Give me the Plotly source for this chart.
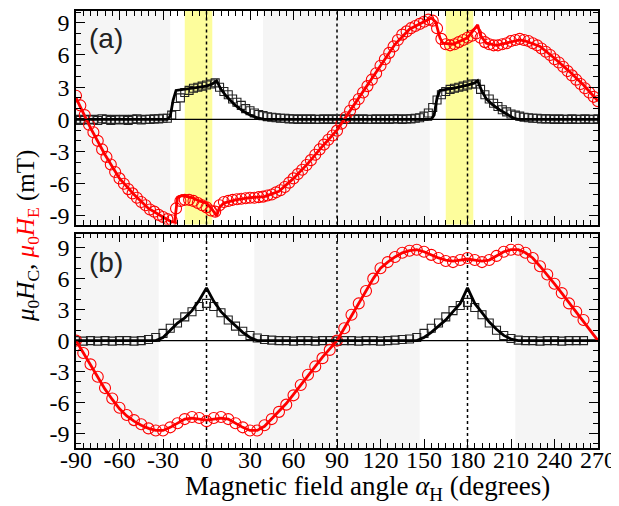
import plotly.graph_objects as go

# ---------------- data ----------------
# panel (a): measured angles (3 deg steps)
ang_a = list(range(-90, 271, 3))
he_a_exp = [
    2.2, 1.3, 0.4, -0.5, -1.2, -2.0, -2.8, -3.5, -4.2, -4.9,
    -5.5, -6.0, -6.5, -6.9, -7.3, -7.7, -8.0, -8.4, -8.6, -8.9,
    -9.1, -9.3, -9.4, -8.3, -7.6, -7.5, -7.5, -7.6, -7.8, -8.0,
    -8.2, -8.5, -8.6, -8.0, -7.7, -7.6, -7.5, -7.45, -7.4, -7.35,
    -7.3, -7.3, -7.25, -7.2, -7.1, -7.0, -6.8, -6.6, -6.3, -5.9,
    -5.5, -5.1, -4.7, -4.25, -3.8, -3.3, -2.8, -2.35, -1.9, -1.5,
    -1.05, -0.4, 0.2, 0.8, 1.4, 1.9, 2.5, 3.1, 3.7, 4.3,
    5.0, 5.6, 6.2, 6.8, 7.4, 7.9, 8.2, 8.5, 8.7, 8.9,
    9.1, 9.3, 9.2, 8.5, 7.5, 7.0, 6.9, 7.0, 7.2, 7.4,
    7.6, 7.8, 8.0, 7.6, 7.2, 7.0, 6.9, 6.9, 7.0, 7.1,
    7.3, 7.4, 7.5, 7.4, 7.3, 7.1, 6.9, 6.6, 6.3, 6.0,
    5.6, 5.3, 4.9, 4.5, 4.1, 3.7, 3.3, 2.9, 2.5, 2.1,
    1.7,
]
hc_a_exp = [
    0.0, -0.1, 0.0, -0.05, 0.0, -0.1, 0.05, 0.0, -0.1, 0.0,
    -0.05, 0.0, -0.1, 0.0, 0.05, -0.05, 0.0, 0.0, 0.05, 0.05,
    0.1, 0.1, 0.4, 1.2, 2.0, 2.5, 2.7, 2.9, 3.0, 3.1,
    3.2, 3.3, 3.4, 3.0, 2.6, 2.3, 1.9, 1.6, 1.3, 1.0,
    0.8, 0.6, 0.45, 0.35, 0.25, 0.2, 0.15, 0.1, 0.1, 0.05,
    0.05, 0.0, 0.05, 0.0, 0.05, 0.0, 0.0, 0.05, 0.0, 0.05,
    0.0, 0.05, 0.0, 0.0, 0.05, 0.0, 0.05, 0.0, 0.0, 0.05,
    0.0, 0.05, 0.0, 0.05, 0.05, 0.0, 0.05, 0.05, 0.1, 0.15,
    0.3, 0.6, 1.1, 1.8, 2.3, 2.6, 2.8, 2.9, 3.0, 3.1,
    3.2, 3.3, 3.3, 2.8, 2.3, 1.9, 1.5, 1.2, 0.9, 0.7,
    0.5, 0.4, 0.3, 0.2, 0.15, 0.1, 0.1, 0.05, 0.05, 0.05,
    0.0, 0.05, 0.0, 0.0, 0.05, 0.0, 0.0, 0.05, 0.0, 0.0,
    0.05,
]
# panel (a): simulation curves
he_a_sim_x = [-90, -80, -70, -60, -50, -40, -30, -25, -22, -20, -17, -10, -5, 0,
              4, 7, 9, 12, 20, 30, 40, 50, 60, 70, 80, 90, 100, 110,
              120, 130, 140, 150, 155, 158, 161, 163, 170, 180, 185, 187, 189, 193,
              200, 210, 216, 220, 230, 240, 250, 260, 270]
he_a_sim_y = [2.0, -0.8, -3.3, -5.5, -7.0, -8.3, -9.1, -9.5, -9.6, -7.3, -7.1, -7.3, -7.6, -7.8,
              -8.4, -9.0, -8.2, -7.8, -7.5, -7.3, -7.2, -6.7, -5.5, -4.1, -2.5, -1.0, 1.0, 3.0,
              5.1, 7.0, 8.4, 9.1, 9.45, 9.1, 7.6, 7.1, 7.0, 7.6, 8.4, 8.8, 7.8, 7.1,
              6.9, 7.2, 7.4, 7.3, 6.8, 5.7, 4.5, 3.2, 1.7]
hc_a_sim_x = [-90, -27, -25, -23, -21, -15, -10, -5, 0, 4, 7, 10, 14, 20, 25, 30, 35, 40,
              155, 157, 159, 161, 170, 180, 185, 187, 190, 193, 197, 202, 207, 212, 215, 270]
hc_a_sim_y = [0, 0, 0.3, 1.8, 2.7, 2.8, 2.9, 3.0, 3.1, 3.3, 3.6, 2.8, 2.1, 1.3, 0.8, 0.4, 0.15, 0,
              0, 0.4, 2.0, 2.7, 2.9, 3.2, 3.4, 3.6, 2.6, 1.9, 1.4, 0.9, 0.5, 0.1, 0, 0]

# panel (b): measured angles (5 deg steps)
ang_b = list(range(-90, 261, 5))
he_b_exp = [
    0.0, -1.2, -2.3, -3.5, -4.6, -5.6, -6.5, -7.2, -7.7, -8.1,
    -8.5, -8.7, -8.7, -8.4, -8.0, -7.6, -7.4, -7.5, -7.8, -7.5,
    -7.4, -7.6, -8.0, -8.4, -8.7, -8.7, -8.2, -7.6, -6.9, -6.2,
    -5.3, -4.3, -3.3, -2.5, -1.7, -0.9, 0.0, 1.2, 2.5, 3.6,
    4.8, 6.0, 7.0, 7.6, 8.1, 8.5, 8.7, 8.8, 8.6, 8.3,
    8.0, 7.7, 7.6, 7.8, 8.0, 7.8, 7.6, 7.8, 8.2, 8.6,
    8.8, 8.8, 8.5, 8.0, 7.2, 6.4, 5.5, 4.6, 3.6, 2.8,
    2.0,
]
hc_b_exp = [
    0.0, -0.05, 0.0, -0.05, 0.0, -0.05, 0.0, 0.0, -0.05, 0.0,
    0.1, 0.3, 0.7, 1.2, 1.7, 2.3, 2.8, 3.3, 3.6, 3.3,
    2.7, 2.0, 1.4, 0.9, 0.5, 0.25, 0.1, 0.05, 0.0, 0.0,
    -0.05, 0.0, 0.0, -0.05, 0.0, 0.0, -0.05, 0.0, 0.0, -0.05,
    0.0, 0.0, -0.05, 0.0, 0.05, 0.1, 0.15, 0.3, 0.7, 1.2,
    1.7, 2.3, 2.9, 3.4, 3.7, 3.2, 2.5, 1.7, 1.0, 0.5,
    0.2, 0.05, 0.0, 0.0, -0.05, 0.0, 0.0, -0.05, 0.0, 0.0,
    0.0,
]
# panel (b): simulation curves
ang_b_sim = list(range(-90, 271, 5))
he_b_sim = [
    0.0, -1.2, -2.4, -3.6, -4.7, -5.7, -6.6, -7.3, -7.8, -8.2,
    -8.5, -8.7, -8.7, -8.4, -8.0, -7.6, -7.5, -7.6, -7.7, -7.6,
    -7.5, -7.6, -8.0, -8.4, -8.7, -8.7, -8.3, -7.6, -6.9, -6.1,
    -5.2, -4.3, -3.3, -2.4, -1.6, -0.8, 0.0, 1.2, 2.4, 3.6,
    4.8, 6.0, 7.0, 7.6, 8.1, 8.5, 8.7, 8.8, 8.6, 8.3,
    8.0, 7.8, 7.7, 7.8, 7.9, 7.8, 7.7, 7.8, 8.2, 8.6,
    8.8, 8.8, 8.5, 8.0, 7.2, 6.4, 5.5, 4.6, 3.7, 2.8,
    1.9, 1.0, 0.0,
]
hc_b_sim_x = [-90, -35, -30, -25, -20, -15, -10, -5, 0, 5, 10, 15, 20, 25, 30, 35,
              145, 150, 155, 160, 165, 170, 175, 180, 185, 190, 195, 200, 205, 210, 215, 270]
hc_b_sim_y = [0, 0, 0.3, 1.0, 1.7, 2.2, 2.9, 3.9, 5.1, 3.8, 2.8, 2.1, 1.4, 0.8, 0.3, 0,
              0, 0.3, 0.8, 1.4, 2.0, 2.8, 3.6, 5.1, 3.6, 2.7, 1.8, 1.1, 0.5, 0.15, 0, 0]

# shaded angle ranges
gray_a = [(-90, -25), (39, 154), (219, 270)]
yellow_a = [(-15, 4), (165, 184)]
gray_b = [(-90, -33), (33, 147), (213, 270)]
dotted_angles = [0, 90, 180]

x_ticks = [-90, -60, -30, 0, 30, 60, 90, 120, 150, 180, 210, 240, 270]
x_ticklabels = ["-90", "-60", "-30", "0", "30", "60", "90", "120", "150", "180", "210", "240", "270"]
y_ticks = [-9, -6, -3, 0, 3, 6, 9]
y_ticklabels = ["-9", "-6", "-3", "0", "3", "6", "9"]

# ---------------- figure ----------------
RED = "#ff0000"
fig = go.Figure()

for xa, ya, he_x, he_y, hc_y, hes_x, hes_y, hcs_x, hcs_y, msz in [
    ("x", "y", ang_a, he_a_exp, hc_a_exp, he_a_sim_x, he_a_sim_y, hc_a_sim_x, hc_a_sim_y, 11),
    ("x2", "y2", ang_b, he_b_exp, hc_b_exp, ang_b_sim, he_b_sim, hc_b_sim_x, hc_b_sim_y, 11),
]:
    fig.add_trace(go.Scatter(x=he_x, y=hc_y, mode="markers", xaxis=xa, yaxis=ya,
                             marker=dict(symbol="square-open", size=8, color="#222222",
                                         line=dict(width=1.1)), showlegend=False))
    fig.add_trace(go.Scatter(x=he_x, y=he_y, mode="markers", xaxis=xa, yaxis=ya,
                             marker=dict(symbol="circle-open", size=msz, color=RED,
                                         line=dict(width=1.1)), showlegend=False))
    fig.add_trace(go.Scatter(x=hcs_x, y=hcs_y, mode="lines", xaxis=xa, yaxis=ya,
                             line=dict(color="black", width=2.8), showlegend=False))
    fig.add_trace(go.Scatter(x=hes_x, y=hes_y, mode="lines", xaxis=xa, yaxis=ya,
                             line=dict(color=RED, width=2.8), showlegend=False))

shapes = []
for (xr, yr, grays, yellows) in [("x", "y", gray_a, yellow_a), ("x2", "y2", gray_b, [])]:
    for a, b in grays:
        shapes.append(dict(type="rect", xref=xr, yref=yr + " domain", x0=a, x1=b, y0=0, y1=1,
                           fillcolor="#f5f5f5", line=dict(width=0), layer="below"))
    for a, b in yellows:
        shapes.append(dict(type="rect", xref=xr, yref=yr + " domain", x0=a, x1=b, y0=0, y1=1,
                           fillcolor="#fdfd9c", line=dict(width=0), layer="below"))
    for d in dotted_angles:
        shapes.append(dict(type="line", xref=xr, yref=yr + " domain", x0=d, x1=d, y0=0, y1=1,
                           line=dict(color="black", width=1.5, dash="dot"), layer="below"))
    shapes.append(dict(type="line", xref=xr + " domain", yref=yr, x0=0, x1=1, y0=0, y1=0,
                       line=dict(color="black", width=1.2), layer="above"))

tickfont = dict(family="Liberation Serif", size=24, color="black")
common = dict(showline=True, linecolor="black", linewidth=1.5, mirror="ticks",
              ticks="inside", ticklen=9, tickwidth=1.3, tickcolor="black",
              showgrid=False, zeroline=False, tickfont=tickfont)
xcommon = dict(common, range=[-90, 270], tickmode="array", tickvals=x_ticks, ticktext=x_ticklabels,
               ticklabelstandoff=-11,
               minor=dict(ticks="inside", ticklen=5, tickwidth=1, tickcolor="black",
                          dtick=5, tick0=0, showgrid=False))
ycommon = dict(common, tickmode="array", tickvals=y_ticks, ticktext=y_ticklabels,
               minor=dict(ticks="inside", ticklen=5, tickwidth=1, tickcolor="black",
                          dtick=1, tick0=0, showgrid=False))

# the page body adds an 8 px offset, so the figure is sized to fill the rest of the window
fig.update_layout(
    width=611, height=498,
    margin=dict(l=68, r=21, t=1, b=58),
    paper_bgcolor="white", plot_bgcolor="white",
    xaxis=dict(xcommon, domain=[0, 1], anchor="y", showticklabels=False),
    yaxis=dict(ycommon, domain=[0.5114, 1], anchor="x", range=[-9.8, 10.1]),
    xaxis2=dict(xcommon, domain=[0, 1], anchor="y2"),
    yaxis2=dict(ycommon, domain=[0, 0.4904], anchor="x2", range=[-10.4, 10.35]),
    shapes=shapes,
    annotations=[
        dict(text="(a)", xref="paper", yref="paper", x=0.021, y=0.936, xanchor="left",
             yanchor="middle", showarrow=False,
             font=dict(family="Liberation Sans", size=28, color="#222222")),
        dict(text="(b)", xref="paper", yref="paper", x=0.021, y=0.424, xanchor="left",
             yanchor="middle", showarrow=False,
             font=dict(family="Liberation Sans", size=28, color="#222222")),
        dict(text="<i>μ</i><sub>0</sub><i>H</i><sub>C</sub>, "
                  "<span style='color:#ff0000'><i>μ</i><sub>0</sub><i>H</i><sub>E</sub></span> (mT)",
             xref="paper", yref="paper", x=-0.094, y=0.485, textangle=-90,
             xanchor="center", yanchor="middle", showarrow=False,
             font=dict(family="Liberation Serif", size=25, color="black")),
        dict(text="Magnetic field angle <i>α</i><sub>H</sub> (degrees)",
             xref="paper", yref="paper", x=0.559, y=-0.092, xanchor="center",
             yanchor="middle", showarrow=False,
             font=dict(family="Liberation Serif", size=27, color="black")),
    ],
)

fig.write_html("out.html")
